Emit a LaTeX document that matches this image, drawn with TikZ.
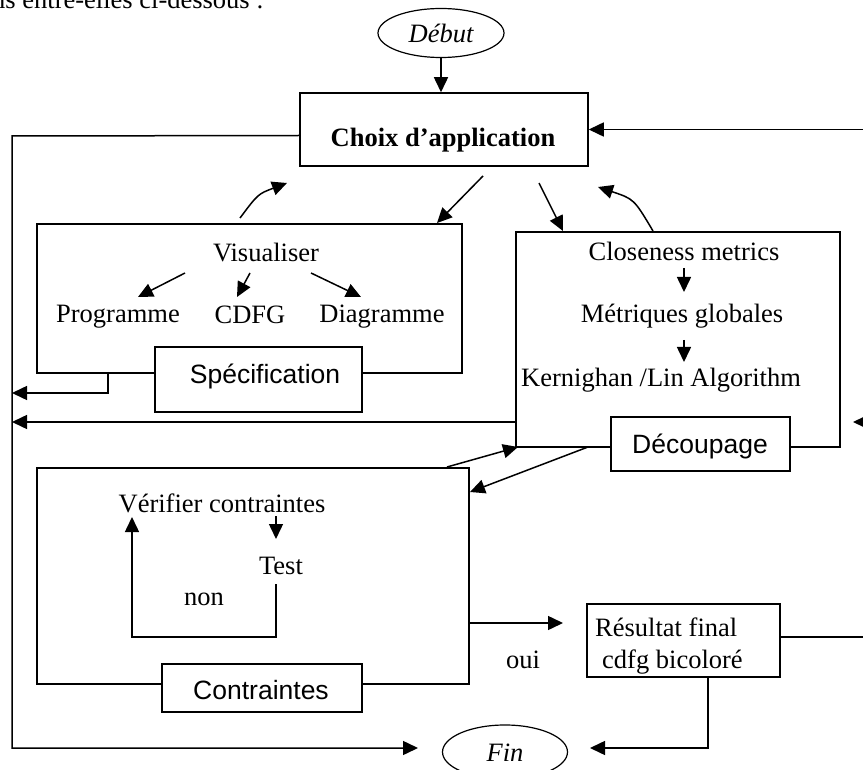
\documentclass[tikz,border=0pt]{standalone}
\usepackage{fontspec}
\setmainfont{Liberation Serif}
\setsansfont{Liberation Sans}
\usetikzlibrary{arrows.meta,shapes.geometric}
\begin{document}
\begin{tikzpicture}[x=1pt,y=-1pt,
  every node/.style={font=\fontsize{26.5}{31}\selectfont, inner sep=0pt},
  boxst/.style={draw, line width=1.5pt},
  lblbox/.style={draw, line width=1.5pt, fill=white},
  ell/.style={draw, ellipse, line width=1.2pt},
  ln/.style={line width=1.5pt},
  arr/.style={line width=1.5pt, -{Triangle[length=15pt,width=14pt]}},
  sf/.style={font=\fontsize{26.5}{31}\selectfont\sffamily}]
\useasboundingbox (0,0) rectangle (863,770);

% fragment of text above the figure
\node[anchor=base west] (intro) at (-8,9) {ns entre-elles ci-dessous :};

% start / end
\node[ell, minimum width=126, minimum height=49] (debut) at (441,33) {\itshape Début};
\node[ell, minimum width=125, minimum height=54] (fin) at (505,752) {};
\node[anchor=base] (fint) at (505,761) {\itshape Fin};

% main choice box
\node[boxst, minimum width=288, minimum height=73] (choix) at (444,129.5) {};
\node[anchor=base] (choixt) at (443,147) {\bfseries Choix d’application};

% Specification block
\node[boxst, minimum width=425, minimum height=149] (visbox) at (249.5,298.5) {};
\node[lblbox, minimum width=207, minimum height=65] (spec) at (258.5,379.5) {};
\node[anchor=base, sf] (spect) at (265,383) {Spécification};
\node[anchor=base] (vist) at (266,262) {Visualiser};
\node[anchor=base] (prog) at (118,323) {Programme};
\node[anchor=base] (cdfg) at (250,324) {CDFG};
\node[anchor=base] (diag) at (382,323) {Diagramme};

% Decoupage block
\node[boxst, minimum width=324, minimum height=215] (decbox) at (678,339.5) {};
\node[lblbox, minimum width=179, minimum height=54] (dec) at (700.5,444) {};
\node[anchor=base, sf] (dect) at (700,453) {Découpage};
\node[anchor=base] (clos) at (684,261) {Closeness metrics};
\node[anchor=base] (metr) at (682,323) {Métriques globales};
\node[anchor=base] (kern) at (661,387) {Kernighan /Lin Algorithm};

% Contraintes block
\node[boxst, minimum width=432, minimum height=216] (contbox) at (253,576) {};
\node[lblbox, minimum width=200, minimum height=48] (cont) at (262,688) {};
\node[anchor=base, sf] (contt) at (261,699) {Contraintes};
\node[anchor=base] (verif) at (222,512) {Vérifier contraintes};
\node[anchor=base] (test) at (281,574) {Test};
\node[anchor=base] (non) at (204,605) {non};
\node[anchor=base] (oui) at (523,668) {oui};

% Result box
\node[boxst, minimum width=193, minimum height=73] (res) at (683.5,640.5) {};
\node[anchor=base west] (res1) at (595,636) {Résultat final};
\node[anchor=base west] (res2) at (602,668) {cdfg bicoloré};

% helper coordinates
\coordinate (lt) at (12,136);
\coordinate (lb) at (12,748);
\coordinate (finin) at (418,748);
\coordinate (rin) at (875,129.5);
\coordinate (c1s) at (483,176);
\coordinate (c1e) at (437,223);
\coordinate (v1s) at (240,218);
\coordinate (v1e) at (287,183);
\coordinate (c2s) at (539,183);
\coordinate (c2e) at (563,231);
\coordinate (d1s) at (653,231);
\coordinate (d1e) at (598,187);
\coordinate (vp1) at (185,273); \coordinate (vp2) at (138,297);
\coordinate (vc1) at (250,273); \coordinate (vc2) at (237,297);
\coordinate (vd1) at (311,273); \coordinate (vd2) at (361,297);
\coordinate (sq1) at (108,372); \coordinate (sq2) at (108,393); \coordinate (sq3) at (12,393);
\coordinate (la1) at (516,422); \coordinate (la2) at (12,422);
\coordinate (ra1) at (875,422); \coordinate (ra2) at (853,422);
\coordinate (cd1) at (447,467); \coordinate (cd2) at (518,447);
\coordinate (dc1) at (588,447); \coordinate (dc2) at (470,492);
\coordinate (cm1) at (684,268); \coordinate (cm2) at (684,292);
\coordinate (mk1) at (684,340); \coordinate (mk2) at (684,362);
\coordinate (vt1) at (276,516); \coordinate (vt2) at (276,539);
\coordinate (tl1) at (276,584); \coordinate (tl2) at (276,637);
\coordinate (tl3) at (132,637); \coordinate (tl4) at (132,517);
\coordinate (o1) at (469,623); \coordinate (o2) at (563,623);
\coordinate (rr1) at (780,637); \coordinate (rr2) at (875,637);
\coordinate (rf1) at (708,677); \coordinate (rf2) at (708,748); \coordinate (rf3) at (590,748);

% connectors
\draw[arr] (debut.south) -- (debut.south |- choix.north);
\draw[arr] ([yshift=-6pt]choix.west) -- (lt) -- (lb) -- (finin);
\draw[arr] (rin) -- (choix.east);
\draw[arr] (c1s) -- (c1e);
\draw[arr] (v1s) .. controls (258,194) .. (v1e);
\draw[arr] (c2s) -- (c2e);
\draw[arr] (d1s) .. controls (634,199) .. (d1e);
\draw[arr] (vp1) -- (vp2);
\draw[arr] (vc1) -- (vc2);
\draw[arr] (vd1) -- (vd2);
\draw[arr] (sq1) -- (sq2) -- (sq3);
\draw[arr] (la1) -- (la2);
\draw[arr] (ra1) -- (ra2);
\draw[arr] (cd1) -- (cd2);
\draw[arr] (dc1) -- (dc2);
\draw[arr] (cm1) -- (cm2);
\draw[arr] (mk1) -- (mk2);
\draw[arr] (vt1) -- (vt2);
\draw[arr] (tl1) -- (tl2) -- (tl3) -- (tl4);
\draw[arr] (o1) -- (o2);
\draw[ln] (rr1) -- (rr2);
\draw[arr] (rf1) -- (rf2) -- (rf3);
\end{tikzpicture}
\end{document}
